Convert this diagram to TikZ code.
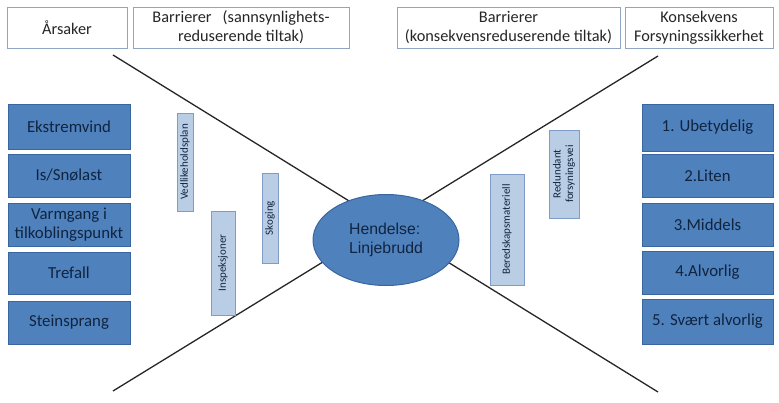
\documentclass[tikz,border=0pt]{standalone}
\usepackage{fontspec}
\setmainfont{Carlito}
\newfontfamily\arialfont{Liberation Sans}
\usetikzlibrary{shapes.geometric}
\definecolor{topborder}{HTML}{8EA6C4}
\definecolor{darkfill}{HTML}{4F81BD}
\definecolor{darkborder}{HTML}{3A66A0}
\definecolor{darktext}{HTML}{10243F}
\definecolor{lightfill}{HTML}{B9CDE5}
\definecolor{lightborder}{HTML}{7E9CC7}
\tikzset{
  headbox/.style={draw=topborder, line width=0.9pt, fill=white, align=center, inner sep=1pt,
    font=\fontsize{16.3}{19}\selectfont, text=black!85},
  causebox/.style={draw=darkborder, line width=0.9pt, fill=darkfill, align=center, inner sep=1pt,
    font=\fontsize{16.8}{19.5}\selectfont, text=darktext},
  barbox/.style={draw=lightborder, line width=0.8pt, fill=lightfill, align=center, inner sep=1pt,
    rotate=90, font=\fontsize{11}{12.5}\selectfont, text=darktext},
  xline/.style={line width=1.3pt, draw=black!85},
}
\begin{document}
\begin{tikzpicture}[x=1pt,y=-1pt]
\useasboundingbox (0,0) rectangle (779,402);

% diagonal lines
\coordinate (tl) at (113,55);
\coordinate (br) at (658,392);
\coordinate (bl) at (113,391);
\coordinate (tr) at (658,56);
\draw[xline] (tl) -- (br);
\draw[xline] (bl) -- (tr);

% header boxes
\node[headbox, minimum width=120pt, minimum height=41pt] (h1) at (67,27.5) {Årsaker};
\node[headbox, minimum width=216pt, minimum height=41pt] (h2) at (241,27.5) {Barrierer\ \ \ (sannsynlighets-\\reduserende tiltak)};
\node[headbox, minimum width=223pt, minimum height=41pt] (h3) at (508.5,27.5) {Barrierer\\(konsekvensreduserende tiltak)};
\node[headbox, minimum width=148pt, minimum height=41pt] (h4) at (699,27.5) {Konsekvens\\Forsyningssikkerhet};

% causes
\node[causebox, minimum width=122pt, minimum height=45pt] (c1) at (69,126.5) {Ekstremvind};
\node[causebox, minimum width=122pt, minimum height=43pt] (c2) at (69,175.5) {Is/Snølast};
\node[causebox, minimum width=122pt, minimum height=43pt] (c3) at (69,224.5) {Varmgang i\\tilkoblingspunkt};
\node[causebox, minimum width=122pt, minimum height=42pt] (c4) at (69,273) {Trefall};
\node[causebox, minimum width=122pt, minimum height=43pt] (c5) at (69,322.5) {Steinsprang};

% consequences
\node[causebox, minimum width=131pt, minimum height=47pt] (k1) at (707.5,127.5) {1. Ubetydelig};
\node[causebox, minimum width=131pt, minimum height=43pt] (k2) at (707.5,175.5) {2.Liten};
\node[causebox, minimum width=131pt, minimum height=43pt] (k3) at (707.5,224.5) {3.Middels};
\node[causebox, minimum width=131pt, minimum height=43pt] (k4) at (707.5,272.5) {4.Alvorlig};
\node[causebox, minimum width=131pt, minimum height=45pt] (k5) at (707.5,321.5) {5. Svært alvorlig};

% barriers
\node[barbox, minimum width=98pt, minimum height=16pt] (b1) at (185,162) {Vedlikeholdsplan};
\node[barbox, minimum width=104pt, minimum height=24pt] (b2) at (223,263) {Inspeksjoner};
\node[barbox, minimum width=90pt, minimum height=16pt] (b3) at (270,218) {Skoging};
\node[barbox, minimum width=111pt, minimum height=34pt] (b4) at (507,229.5) {Beredskapsmateriell};
\node[barbox, minimum width=88pt, minimum height=30pt] (b5) at (564,174) {Redundant\\forsyningsvei};

% event
\node[ellipse, draw=darkborder, line width=1pt, fill=darkfill, minimum width=146pt, minimum height=91pt,
  inner sep=0pt, align=left, text=darktext, font=\arialfont\fontsize{15.8}{19.5}\selectfont] (ev) at (386,240) {Hendelse:\\Linjebrudd};
\end{tikzpicture}
\end{document}
